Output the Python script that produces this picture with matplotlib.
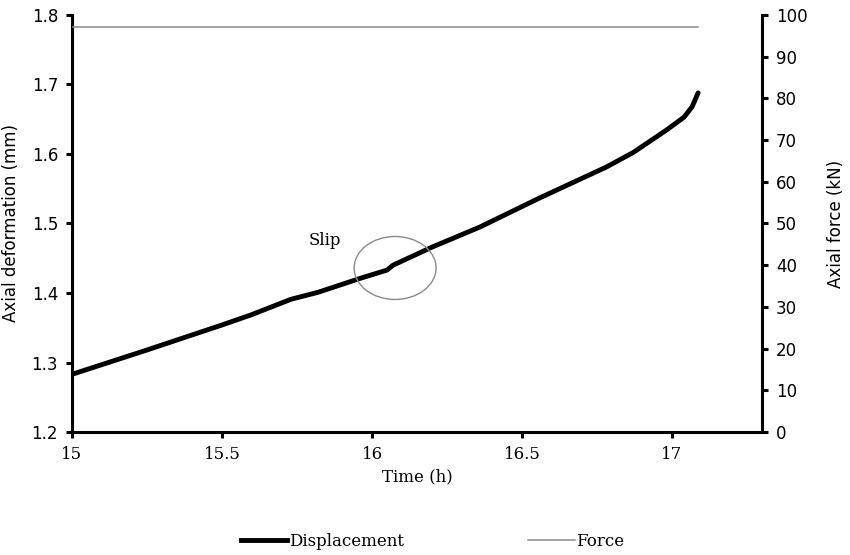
import matplotlib
matplotlib.use("Agg")
import numpy as np
import matplotlib.pyplot as plt
from matplotlib.patches import Ellipse
from matplotlib.lines import Line2D

# displacement curve (time in h, deformation in mm)
time_h = [15.0, 15.25, 15.5, 15.6, 15.73, 15.82, 15.96, 16.05, 16.07,
          16.2, 16.36, 16.56, 16.7, 16.78, 16.87, 16.98, 17.04, 17.067, 17.087]
disp_mm = [1.283, 1.318, 1.354, 1.369, 1.391, 1.401, 1.421, 1.433, 1.440,
           1.466, 1.495, 1.537, 1.565, 1.581, 1.602, 1.634, 1.653, 1.668, 1.688]

# force stays constant
force_t = [15.0, 17.087]
force_kn = [97, 97]

sans = "DejaVu Sans"
serif = "DejaVu Serif"

fig = plt.figure(figsize=(8.5, 5.55), dpi=100)
ax = fig.add_axes([0.0847, 0.2216, 0.8118, 0.7514])
ax2 = ax.twinx()

ax.plot(time_h, disp_mm, color="black", lw=3.5, solid_capstyle="round",
        solid_joinstyle="round", zorder=3)
ax2.plot(force_t, force_kn, color="#8a8a8a", lw=1.1)

ax.set_xlim(15, 17.3)
ax.set_ylim(1.2, 1.8)
ax.set_xticks([15, 15.5, 16, 16.5, 17])
ax.set_xticklabels(["15", "15.5", "16", "16.5", "17"], fontfamily=serif, fontsize=12)
yt = np.arange(1.2, 1.81, 0.1)
ax.set_yticks(yt)
ax.set_yticklabels([f"{v:.1f}" for v in yt], fontfamily=sans, fontsize=12)
ax2.set_ylim(0, 100)
ax2.set_yticks(range(0, 101, 10))
ax2.set_yticklabels([str(v) for v in range(0, 101, 10)], fontfamily=sans, fontsize=12)

for a in (ax, ax2):
    a.spines["top"].set_visible(False)
    for s in ("left", "right", "bottom"):
        a.spines[s].set_linewidth(2.2)
    a.tick_params(direction="out", length=4, width=2.2, pad=6)
ax.spines["right"].set_visible(False)
ax2.spines["left"].set_visible(False)
ax2.spines["bottom"].set_visible(False)

ax.set_xlabel("Time (h)", fontfamily=serif, fontsize=12, labelpad=4)
ax.set_ylabel("Axial deformation (mm)", fontfamily=sans, fontsize=12, labelpad=8)
ax2.set_ylabel("Axial force (kN)", fontfamily=sans, fontsize=12, labelpad=14)

# slip annotation
ax.add_patch(Ellipse((16.077, 1.436), 0.273, 0.0906, fill=False,
                     edgecolor="#8a8a8a", lw=1.0, zorder=4))
ax.text(15.843, 1.476, "Slip", fontfamily=serif, fontsize=12,
        ha="center", va="center")

handles = [Line2D([], [], color="black", lw=3.5),
           Line2D([], [], color="#8a8a8a", lw=1.1)]
fig.legend(handles, ["Displacement", "Force"], loc="center",
           bbox_to_anchor=(0.509, 0.025), ncol=2, frameon=False,
           prop={"family": serif, "size": 12}, handlelength=2.8,
           handletextpad=0.1, columnspacing=7.45)

fig.savefig("out.png", dpi=100)
